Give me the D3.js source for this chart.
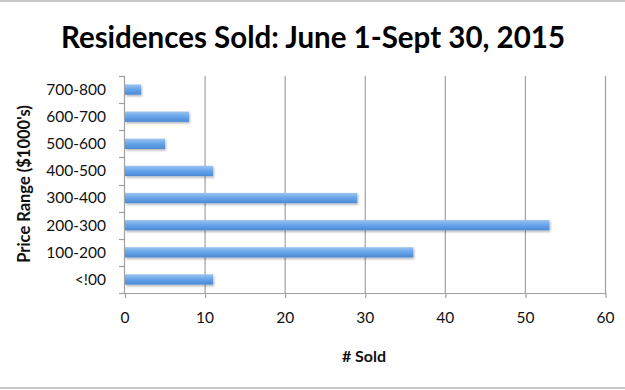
<!DOCTYPE html>
<html><head><meta charset="utf-8">
<script src="https://cdn.jsdelivr.net/npm/d3@7"></script>
<style>body{margin:0;background:#fff}svg{display:block}</style>
</head><body>
<script>
const categories = ["700-800","600-700","500-600","400-500","300-400","200-300","100-200","<!00"];
const sold = [2, 8, 5, 11, 29, 53, 36, 11];
const xTicks = [0,10,20,30,40,50,60];
const title = "Residences Sold: June 1-Sept 30, 2015";
const xTitle = "# Sold";
const yTitle = "Price Range ($1000's)";

const W = 625, H = 390;
const svg = d3.select("body").append("svg").attr("width",W).attr("height",H);
const font = "Lato, 'Open Sans', sans-serif";

// frame lines
svg.append("line").attr("x1",0).attr("x2",W).attr("y1",1).attr("y2",1).attr("stroke","#b5b5b5").attr("stroke-width",1.5);
svg.append("line").attr("x1",0).attr("x2",W).attr("y1",388).attr("y2",388).attr("stroke","#b5b5b5").attr("stroke-width",1.5);

const x = d3.scaleLinear().domain([0,60]).range([124.5, 605]);
const y = d3.scaleBand().domain(categories).range([76, 293]).paddingInner(0.62).paddingOuter(0.31);

const defs = svg.append("defs");
const g = defs.append("linearGradient").attr("id","bar").attr("x1",0).attr("x2",0).attr("y1",0).attr("y2",1);
g.append("stop").attr("offset","0%").attr("stop-color","#9cc4f0");
g.append("stop").attr("offset","45%").attr("stop-color","#6aa6ea");
g.append("stop").attr("offset","100%").attr("stop-color","#4a8ad6");
const f = defs.append("filter").attr("id","sh").attr("x","-10%").attr("y","-50%").attr("width","130%").attr("height","250%");
f.append("feDropShadow").attr("dx",1).attr("dy",1.5).attr("stdDeviation",1.2).attr("flood-color","#000").attr("flood-opacity",0.3);

// gridlines
svg.append("g").selectAll("line").data(xTicks.filter(d=>d>0)).join("line")
  .attr("x1",d=>x(d)+0.5).attr("x2",d=>x(d)+0.5).attr("y1",76).attr("y2",293)
  .attr("stroke","#a0a0a0").attr("stroke-width",1.2);

// bars
svg.append("g").selectAll("rect").data(sold).join("rect")
  .attr("x",x(0)+0.5).attr("y",(d,i)=>y(categories[i]))
  .attr("width",d=>x(d)-x(0)).attr("height",y.bandwidth())
  .attr("fill","url(#bar)").attr("filter","url(#sh)");

// x axis
const xa = svg.append("g").attr("transform","translate(0,293)")
  .call(d3.axisBottom(x).tickValues(xTicks).tickSize(5).tickPadding(14).tickSizeOuter(0));
xa.select(".domain").attr("stroke","#a0a0a0").attr("stroke-width",1.2).attr("d","M119,0.5H605.5");
xa.selectAll(".tick line").attr("stroke","#a0a0a0").attr("stroke-width",1.2).attr("transform","translate(0.5,0)");
xa.selectAll("text").attr("font-family",font).attr("font-size",15.5).attr("fill","#111");

// y axis
const yTickPos = d3.range(categories.length+1).map(i=>76 + i*(217/categories.length));
const ya = svg.append("g");
ya.append("line").attr("x1",124.5).attr("x2",124.5).attr("y1",76).attr("y2",293).attr("stroke","#a0a0a0").attr("stroke-width",1.2);
ya.selectAll("line.t").data(yTickPos).join("line").attr("class","t")
  .attr("x1",119).attr("x2",124.5).attr("y1",d=>Math.round(d)+0.5).attr("y2",d=>Math.round(d)+0.5)
  .attr("stroke","#a0a0a0").attr("stroke-width",1.2);
ya.selectAll("text").data(categories).join("text")
  .attr("x",106).attr("y",d=>y(d)+y.bandwidth()/2).attr("dy","0.35em")
  .attr("text-anchor","end").attr("font-family",font).attr("font-size",15.5).attr("fill","#111").text(d=>d);

// titles
svg.append("text").attr("x",313).attr("y",48).attr("text-anchor","middle")
  .attr("font-family",font).attr("font-weight","bold").attr("font-size",29.5).attr("fill","#000").text(title);
svg.append("text").attr("x",364).attr("y",362).attr("text-anchor","middle")
  .attr("font-family",font).attr("font-weight","bold").attr("font-size",16).attr("fill","#111").text(xTitle);
svg.append("text").attr("transform","translate(30,184) rotate(-90)").attr("text-anchor","middle")
  .attr("font-family",font).attr("font-weight","bold").attr("font-size",16.5).attr("fill","#111").text(yTitle);
</script>
</body></html>
